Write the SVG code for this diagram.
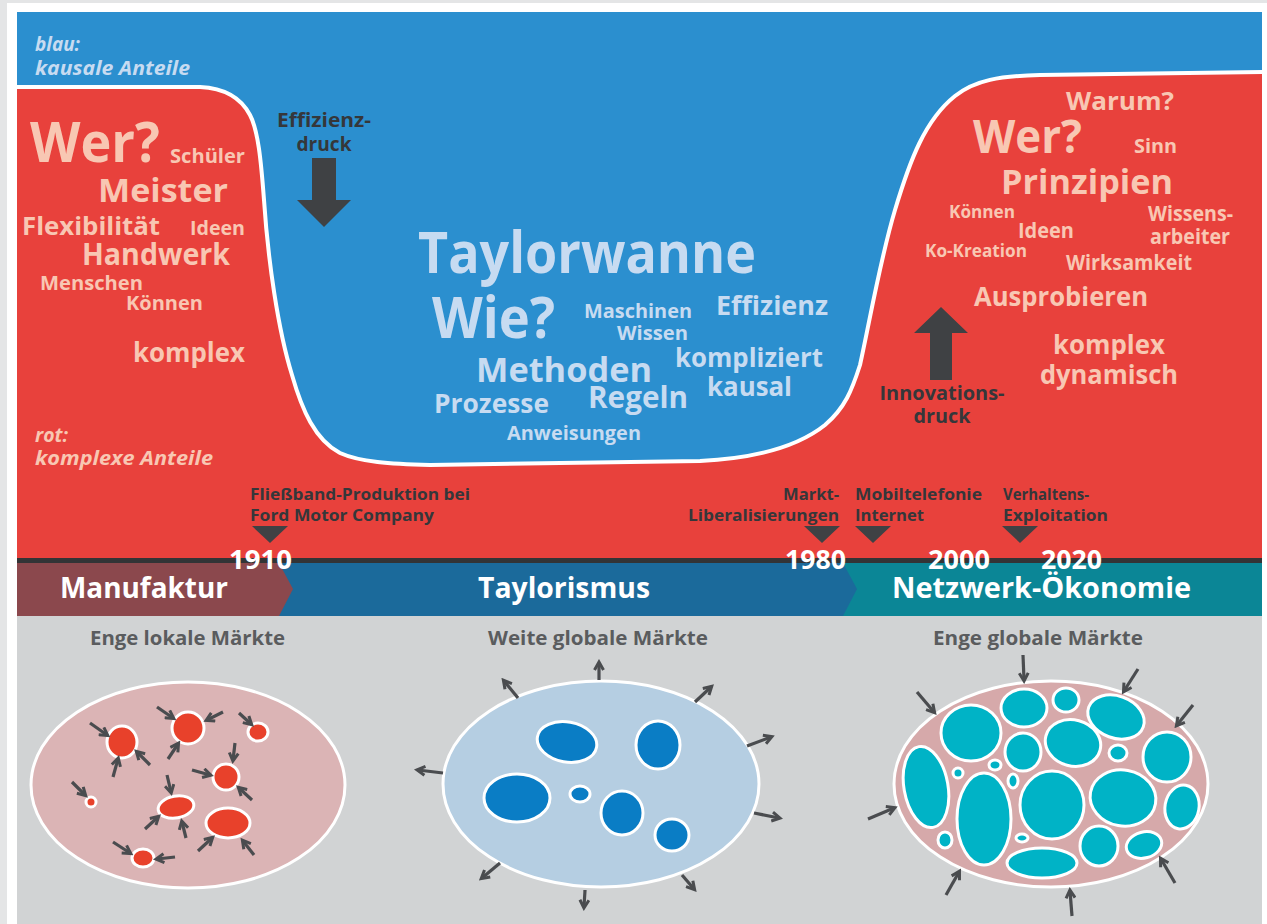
<svg xmlns="http://www.w3.org/2000/svg" width="1267" height="924" viewBox="0 0 1267 924">
<defs>
<style>
text{font-family:"Open Sans","Noto Sans","Liberation Sans",sans-serif;font-weight:bold}
.rw{fill:#f8c7b3}
.bw{fill:#c7dbf1}
.it{font-style:italic;font-size:20px}
.dk{fill:#35373a;font-size:19px}
.ev{font-size:16px;fill:#35373a}
.yr{font-size:26px;fill:#ffffff}
.band{font-size:28px;fill:#ffffff}
.hd{font-size:19px;fill:#5a5c5e}
.ar{stroke:#4a4c4f;stroke-width:3.2;fill:none;marker-end:url(#ah)}
.rb{fill:#e8412b;stroke:#fff;stroke-width:3}
.bb{fill:#0a7dc5;stroke:#fff;stroke-width:3}
.tb{fill:#00b3c6;stroke:#fff;stroke-width:3}
</style>
<marker id="ah" markerUnits="userSpaceOnUse" markerWidth="12" markerHeight="12" refX="8" refY="6" orient="auto">
<path d="M1,1.5 L9,6 L1,10.5" fill="none" stroke="#4a4c4f" stroke-width="3" stroke-linejoin="miter"/>
</marker>
</defs>
<rect x="0" y="0" width="1267" height="924" fill="#e4e5e6"/>
<rect x="7" y="3" width="1260" height="921" fill="#ffffff"/>

<g id="background">
<rect x="17" y="12" width="1245" height="546" fill="#2b8fcf"/>
<path d="M17,87 L200,87 C222,88 240,96 250,115 C258,130 261,160 264,200 C268,260 278,330 292,375 C302,410 315,440 340,453 C360,462 390,464 430,465 L700,461 C760,458 800,445 825,425 C845,408 852,390 860,365 C870,320 880,260 895,210 C910,160 925,120 955,96 C975,80 1000,76 1040,75 L1262,72 L1262,558 L17,558 Z" fill="#e8413c"/>
<path d="M17,87 L200,87 C222,88 240,96 250,115 C258,130 261,160 264,200 C268,260 278,330 292,375 C302,410 315,440 340,453 C360,462 390,464 430,465 L700,461 C760,458 800,445 825,425 C845,408 852,390 860,365 C870,320 880,260 895,210 C910,160 925,120 955,96 C975,80 1000,76 1040,75 L1262,72" fill="none" stroke="#ffffff" stroke-width="4"/>
<rect x="17" y="616" width="1245" height="308" fill="#d1d3d4"/>
</g>

<g id="legend-blau" class="bw it">
<text x="35" y="51" textLength="45" lengthAdjust="spacingAndGlyphs">blau:</text>
<text x="35" y="75" textLength="155" lengthAdjust="spacingAndGlyphs">kausale Anteile</text>
</g>
<g id="legend-rot" class="rw it">
<text x="35" y="442" textLength="33" lengthAdjust="spacingAndGlyphs">rot:</text>
<text x="35" y="465" textLength="178" lengthAdjust="spacingAndGlyphs">komplexe Anteile</text>
</g>

<g id="words-manufaktur" class="rw">
<text x="30" y="162" font-size="55" textLength="130" lengthAdjust="spacingAndGlyphs">Wer?</text>
<text x="170" y="163" font-size="19" textLength="75" lengthAdjust="spacingAndGlyphs">Schüler</text>
<text x="98" y="202" font-size="33" textLength="130" lengthAdjust="spacingAndGlyphs">Meister</text>
<text x="22" y="235" font-size="25" textLength="138" lengthAdjust="spacingAndGlyphs">Flexibilität</text>
<text x="190" y="235" font-size="20" textLength="55" lengthAdjust="spacingAndGlyphs">Ideen</text>
<text x="82" y="265" font-size="31" textLength="148" lengthAdjust="spacingAndGlyphs">Handwerk</text>
<text x="40" y="290" font-size="19" textLength="103" lengthAdjust="spacingAndGlyphs">Menschen</text>
<text x="126" y="310" font-size="19" textLength="77" lengthAdjust="spacingAndGlyphs">Können</text>
<text x="133" y="362" font-size="26" textLength="112" lengthAdjust="spacingAndGlyphs">komplex</text>
</g>

<g id="effizienzdruck">
<text class="dk" x="324" y="127" text-anchor="middle" textLength="94" lengthAdjust="spacingAndGlyphs">Effizienz-</text>
<text class="dk" x="324" y="151" text-anchor="middle" textLength="55" lengthAdjust="spacingAndGlyphs">druck</text>
<path d="M312,158 L336,158 L336,200 L351,200 L324,227 L297,200 L312,200 Z" fill="#3f4144"/>
</g>

<g id="words-taylorwanne" class="bw">
<text x="418" y="273" font-size="57" textLength="338" lengthAdjust="spacingAndGlyphs">Taylorwanne</text>
<text x="432" y="338" font-size="57" textLength="123" lengthAdjust="spacingAndGlyphs">Wie?</text>
<text x="584" y="318" font-size="20" textLength="108" lengthAdjust="spacingAndGlyphs">Maschinen</text>
<text x="617" y="340" font-size="20" textLength="71" lengthAdjust="spacingAndGlyphs">Wissen</text>
<text x="716" y="315" font-size="27" textLength="112" lengthAdjust="spacingAndGlyphs">Effizienz</text>
<text x="476" y="382" font-size="34" textLength="176" lengthAdjust="spacingAndGlyphs">Methoden</text>
<text x="675" y="367" font-size="27" textLength="148" lengthAdjust="spacingAndGlyphs">kompliziert</text>
<text x="707" y="396" font-size="27" textLength="85" lengthAdjust="spacingAndGlyphs">kausal</text>
<text x="434" y="413" font-size="27" textLength="115" lengthAdjust="spacingAndGlyphs">Prozesse</text>
<text x="588" y="408" font-size="30" textLength="100" lengthAdjust="spacingAndGlyphs">Regeln</text>
<text x="507" y="440" font-size="20" textLength="134" lengthAdjust="spacingAndGlyphs">Anweisungen</text>
</g>

<g id="words-netzwerk" class="rw">
<text x="1066" y="110" font-size="25" textLength="108" lengthAdjust="spacingAndGlyphs">Warum?</text>
<text x="973" y="153" font-size="47" textLength="109" lengthAdjust="spacingAndGlyphs">Wer?</text>
<text x="1134" y="153" font-size="20" textLength="43" lengthAdjust="spacingAndGlyphs">Sinn</text>
<text x="1001" y="194" font-size="34" textLength="172" lengthAdjust="spacingAndGlyphs">Prinzipien</text>
<text x="949" y="218" font-size="18" textLength="66" lengthAdjust="spacingAndGlyphs">Können</text>
<text x="1018" y="238" font-size="21" textLength="56" lengthAdjust="spacingAndGlyphs">Ideen</text>
<text x="1148" y="221" font-size="21" textLength="85" lengthAdjust="spacingAndGlyphs">Wissens-</text>
<text x="1150" y="244" font-size="21" textLength="80" lengthAdjust="spacingAndGlyphs">arbeiter</text>
<text x="925" y="257" font-size="18" textLength="102" lengthAdjust="spacingAndGlyphs">Ko-Kreation</text>
<text x="1066" y="270" font-size="21" textLength="126" lengthAdjust="spacingAndGlyphs">Wirksamkeit</text>
<text x="974" y="306" font-size="27" textLength="174" lengthAdjust="spacingAndGlyphs">Ausprobieren</text>
<text x="1053" y="354" font-size="27" textLength="112" lengthAdjust="spacingAndGlyphs">komplex</text>
<text x="1040" y="384" font-size="27" textLength="138" lengthAdjust="spacingAndGlyphs">dynamisch</text>
</g>

<g id="innovationsdruck">
<path d="M941,307 L968,333 L952,333 L952,380 L930,380 L930,333 L914,333 Z" fill="#3f4144"/>
<text class="dk" x="942" y="400" text-anchor="middle" textLength="125" lengthAdjust="spacingAndGlyphs">Innovations-</text>
<text class="dk" x="942" y="423" text-anchor="middle" textLength="57" lengthAdjust="spacingAndGlyphs">druck</text>
</g>

<g id="timeline-band">
<rect x="17" y="558" width="1245" height="5" fill="#333436"/>
<rect x="17" y="563" width="1245" height="53" fill="#0b8696"/>
<polygon points="17,563 843,563 857,589 843,616 17,616" fill="#1b6a9b"/>
<polygon points="17,563 279,563 293,589 279,616 17,616" fill="#8b484d"/>
<text class="band" x="60" y="598" textLength="168" lengthAdjust="spacingAndGlyphs">Manufaktur</text>
<text class="band" x="478" y="598" textLength="172" lengthAdjust="spacingAndGlyphs">Taylorismus</text>
<text class="band" x="892" y="598" textLength="299" lengthAdjust="spacingAndGlyphs">Netzwerk-Ökonomie</text>
<text class="yr" x="229" y="569" textLength="63" lengthAdjust="spacingAndGlyphs">1910</text>
<text class="yr" x="785" y="569" textLength="61" lengthAdjust="spacingAndGlyphs">1980</text>
<text class="yr" x="928" y="569" textLength="62" lengthAdjust="spacingAndGlyphs">2000</text>
<text class="yr" x="1041" y="569" textLength="61" lengthAdjust="spacingAndGlyphs">2020</text>
</g>

<g id="event-1910">
<text class="ev" x="250" y="500" textLength="220" lengthAdjust="spacingAndGlyphs">Fließband-Produktion bei</text>
<text class="ev" x="250" y="521" textLength="184" lengthAdjust="spacingAndGlyphs">Ford Motor Company</text>
<polygon points="252,526 288,526 270,543" fill="#3f4144"/>
</g>
<g id="event-1980">
<text class="ev" x="839" y="500" text-anchor="end" textLength="56" lengthAdjust="spacingAndGlyphs">Markt-</text>
<text class="ev" x="839" y="521" text-anchor="end" textLength="151" lengthAdjust="spacingAndGlyphs">Liberalisierungen</text>
<polygon points="804,526 840,526 822,543" fill="#3f4144"/>
</g>
<g id="event-mobil">
<text class="ev" x="855" y="500" textLength="127" lengthAdjust="spacingAndGlyphs">Mobiltelefonie</text>
<text class="ev" x="855" y="521" textLength="69" lengthAdjust="spacingAndGlyphs">Internet</text>
<polygon points="855,526 891,526 873,543" fill="#3f4144"/>
</g>
<g id="event-verhalten">
<text class="ev" x="1003" y="500" textLength="86" lengthAdjust="spacingAndGlyphs">Verhaltens-</text>
<text class="ev" x="1003" y="521" textLength="105" lengthAdjust="spacingAndGlyphs">Exploitation</text>
<polygon points="1002,526 1038,526 1020,543" fill="#3f4144"/>
</g>

<g id="markt-lokal">
<text class="hd" x="90" y="645" textLength="195" lengthAdjust="spacingAndGlyphs">Enge lokale Märkte</text>
<ellipse cx="188" cy="785" rx="157" ry="103" fill="#dbb4b5" stroke="#fff" stroke-width="3"/>
<ellipse class="rb" cx="122" cy="742" rx="15" ry="16"/>
<ellipse class="rb" cx="188" cy="728" rx="16" ry="16"/>
<ellipse class="rb" cx="258" cy="732" rx="10" ry="9"/>
<ellipse class="rb" cx="226" cy="777" rx="13" ry="13"/>
<ellipse class="rb" cx="91" cy="802" rx="5" ry="5"/>
<ellipse class="rb" cx="176" cy="807" rx="18" ry="11" transform="rotate(-10 176 807)"/>
<ellipse class="rb" cx="228" cy="823" rx="22" ry="15"/>
<ellipse class="rb" cx="143" cy="858" rx="11" ry="9"/>
</g>

<g id="markt-weit-global">
<text class="hd" x="488" y="645" textLength="220" lengthAdjust="spacingAndGlyphs">Weite globale Märkte</text>
<ellipse cx="601" cy="784" rx="158" ry="103" fill="#b5cee2" stroke="#fff" stroke-width="3"/>
<ellipse class="bb" cx="567" cy="742" rx="30" ry="20" transform="rotate(10 567 742)"/>
<ellipse class="bb" cx="658" cy="745" rx="22" ry="24"/>
<ellipse class="bb" cx="517" cy="798" rx="33" ry="24"/>
<ellipse class="bb" cx="580" cy="794" rx="10" ry="8"/>
<ellipse class="bb" cx="622" cy="813" rx="21" ry="22"/>
<ellipse class="bb" cx="672" cy="835" rx="17" ry="16"/>
</g>

<g id="markt-eng-global">
<text class="hd" x="933" y="645" textLength="210" lengthAdjust="spacingAndGlyphs">Enge globale Märkte</text>
<ellipse cx="1051" cy="784" rx="157" ry="103" fill="#d6a9aa" stroke="#fff" stroke-width="3"/>
<ellipse class="tb" cx="1024" cy="708" rx="23" ry="19"/>
<ellipse class="tb" cx="1066" cy="700" rx="13" ry="12"/>
<ellipse class="tb" cx="1116" cy="717" rx="29" ry="21" transform="rotate(20 1116 717)"/>
<ellipse class="tb" cx="971" cy="733" rx="30" ry="28"/>
<ellipse class="tb" cx="1023" cy="752" rx="18" ry="19"/>
<ellipse class="tb" cx="1073" cy="743" rx="28" ry="23" transform="rotate(15 1073 743)"/>
<ellipse class="tb" cx="1118" cy="753" rx="9" ry="8"/>
<ellipse class="tb" cx="1167" cy="757" rx="24" ry="25"/>
<ellipse class="tb" cx="926" cy="787" rx="22" ry="41" transform="rotate(-10 926 787)"/>
<ellipse class="tb" cx="958" cy="773" rx="5" ry="5"/>
<ellipse class="tb" cx="995" cy="765" rx="6" ry="5"/>
<ellipse class="tb" cx="1013" cy="781" rx="5" ry="7"/>
<ellipse class="tb" cx="984" cy="819" rx="27" ry="46"/>
<ellipse class="tb" cx="1052" cy="805" rx="32" ry="34"/>
<ellipse class="tb" cx="1123" cy="798" rx="33" ry="28" transform="rotate(10 1123 798)"/>
<ellipse class="tb" cx="1182" cy="807" rx="17" ry="22" transform="rotate(10 1182 807)"/>
<ellipse class="tb" cx="945" cy="840" rx="7" ry="8"/>
<ellipse class="tb" cx="1022" cy="838" rx="6" ry="4"/>
<ellipse class="tb" cx="1099" cy="846" rx="19" ry="20"/>
<ellipse class="tb" cx="1144" cy="845" rx="18" ry="13" transform="rotate(-15 1144 845)"/>
<ellipse class="tb" cx="1042" cy="863" rx="35" ry="15"/>
</g>

<g id="connectors">
<line class="ar" x1="90" y1="723" x2="107" y2="735"/>
<line class="ar" x1="113" y1="777" x2="118" y2="759"/>
<line class="ar" x1="150" y1="765" x2="137" y2="752"/>
<line class="ar" x1="157" y1="707" x2="173" y2="718"/>
<line class="ar" x1="223" y1="712" x2="207" y2="720"/>
<line class="ar" x1="168" y1="759" x2="178" y2="744"/>
<line class="ar" x1="239" y1="713" x2="251" y2="724"/>
<line class="ar" x1="235" y1="743" x2="233" y2="760"/>
<line class="ar" x1="192" y1="770" x2="210" y2="775"/>
<line class="ar" x1="252" y1="800" x2="239" y2="788"/>
<line class="ar" x1="72" y1="782" x2="85" y2="795"/>
<line class="ar" x1="167" y1="775" x2="171" y2="792"/>
<line class="ar" x1="145" y1="829" x2="158" y2="817"/>
<line class="ar" x1="186" y1="838" x2="182" y2="822"/>
<line class="ar" x1="198" y1="851" x2="212" y2="838"/>
<line class="ar" x1="254" y1="855" x2="243" y2="841"/>
<line class="ar" x1="113" y1="842" x2="130" y2="853"/>
<line class="ar" x1="175" y1="857" x2="157" y2="859"/>

<line class="ar" x1="599" y1="680" x2="599" y2="663"/>
<line class="ar" x1="518" y1="698" x2="504" y2="681"/>
<line class="ar" x1="695" y1="702" x2="711" y2="687"/>
<line class="ar" x1="747" y1="746" x2="771" y2="737"/>
<line class="ar" x1="443" y1="773" x2="418" y2="770"/>
<line class="ar" x1="754" y1="813" x2="779" y2="818"/>
<line class="ar" x1="500" y1="863" x2="482" y2="878"/>
<line class="ar" x1="585" y1="890" x2="584" y2="907"/>
<line class="ar" x1="682" y1="875" x2="694" y2="889"/>

<line class="ar" x1="1023" y1="655" x2="1024" y2="680"/>
<line class="ar" x1="1138" y1="669" x2="1124" y2="691"/>
<line class="ar" x1="1193" y1="705" x2="1177" y2="725"/>
<line class="ar" x1="917" y1="692" x2="934" y2="712"/>
<line class="ar" x1="868" y1="819" x2="894" y2="808"/>
<line class="ar" x1="946" y1="895" x2="959" y2="872"/>
<line class="ar" x1="1072" y1="916" x2="1070" y2="891"/>
<line class="ar" x1="1175" y1="883" x2="1161" y2="859"/>
</g>
</svg>
